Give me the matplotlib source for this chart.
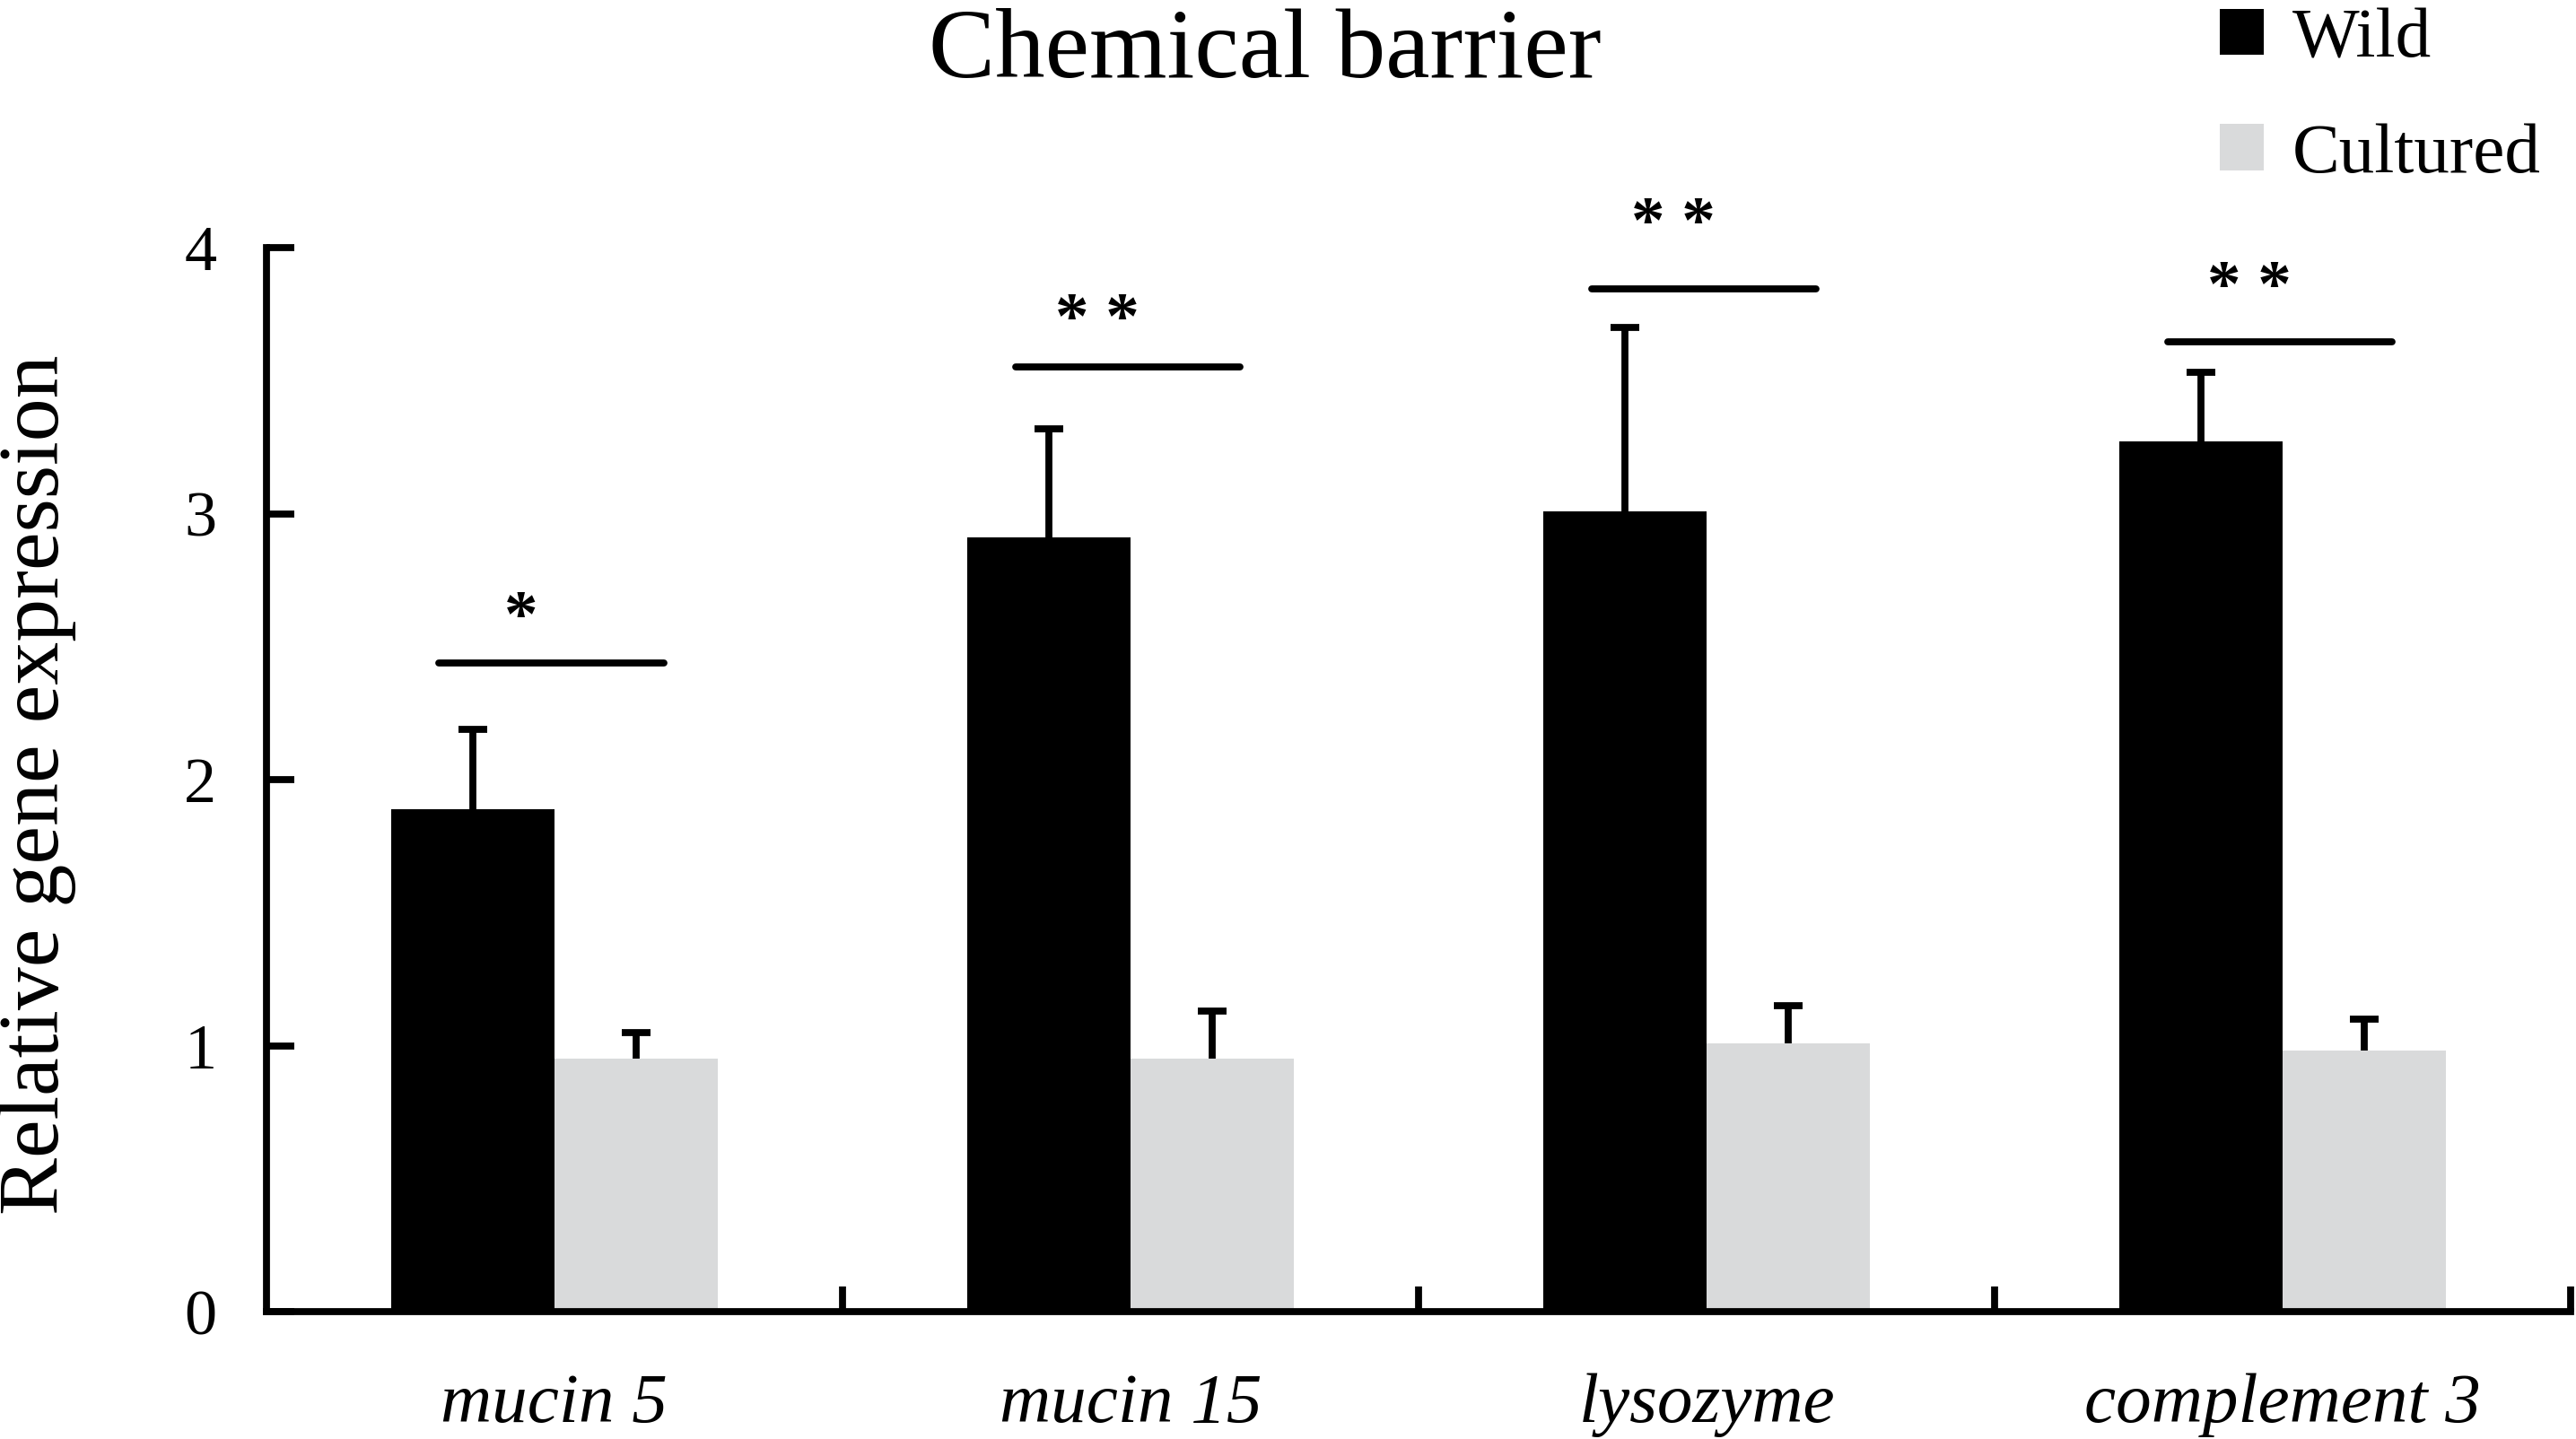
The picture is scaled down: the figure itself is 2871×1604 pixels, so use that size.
import matplotlib
matplotlib.use("Agg")
import matplotlib.pyplot as plt
import numpy as np
from matplotlib.patches import Patch

plt.rcParams['font.family'] = ['Liberation Serif', 'DejaVu Serif']

genes = ["mucin 5", "mucin 15", "lysozyme", "complement 3"]
wild = [1.89, 2.91, 3.01, 3.27]
wild_err = [0.30, 0.41, 0.69, 0.26]
cultured = [0.95, 0.95, 1.01, 0.98]
cultured_err = [0.10, 0.18, 0.14, 0.12]
sig_labels = ["*", "* *", "* *", "* *"]
sig_line_y = [2.44, 3.55, 3.845, 3.645]
sig_text_y = [2.60, 3.72, 4.08, 3.84]

WILD_COLOR = "#000000"
CULT_COLOR = "#d9dadb"

fig = plt.figure(figsize=(28.71, 16.04), dpi=100)
ax = fig.add_axes([0.1034, 0.0885, 0.998 - 0.1034, 0.8279 - 0.0885])

x = np.arange(len(genes))
w = 0.283
lw = 5.6

ax.bar(x - w / 2, wild, w, color=WILD_COLOR, zorder=2)
ax.bar(x + w / 2, cultured, w, color=CULT_COLOR, zorder=2)
for xs, vals, errs in [(x - w / 2, wild, wild_err), (x + w / 2, cultured, cultured_err)]:
    cont = ax.errorbar(xs, vals, yerr=[np.zeros(len(vals)), errs], fmt='none',
                       ecolor='black', elinewidth=lw, capsize=11.5, capthick=lw, zorder=1)
    caps = cont.lines[1]
    if len(caps) > 1:
        caps[0].set_visible(False)

for i in range(len(genes)):
    ax.plot([x[i] - 0.2, x[i] + 0.19], [sig_line_y[i], sig_line_y[i]], color='black',
            lw=lw, solid_capstyle='round', clip_on=False)
    ax.text(x[i] - 0.058, sig_text_y[i], sig_labels[i], ha='center', va='center',
            fontsize=54, fontweight='bold', clip_on=False)

ax.set_xlim(-0.5, len(genes) - 0.5)
ax.set_ylim(0, 4)
ax.set_yticks([0, 1, 2, 3, 4])
ax.set_yticklabels(["0", "1", "2", "3", "4"])
ax.set_xticks(np.arange(len(genes)) + 0.5)
ax.set_xticklabels([])
ax.set_xticks(x, minor=True)
ax.set_xticklabels(genes, minor=True, fontstyle='italic', fontsize=57)
ax.tick_params(axis='x', which='minor', length=0, pad=49)
ax.tick_params(axis='x', which='major', direction='in', length=20, width=lw)
ax.tick_params(axis='y', direction='in', length=22, width=lw, labelsize=52, pad=40)

for s in ['top', 'right']:
    ax.spines[s].set_visible(False)
for s in ['left', 'bottom']:
    ax.spines[s].set_linewidth(lw)
ax.spines['left'].set_bounds(0, 4)

fig.text(0.491, 1 - 86 / 1604, "Chemical barrier", ha='center', va='baseline', fontsize=80)
fig.text(0.0147, 0.4545, "Relative gene expression", rotation=90, ha='center', va='center',
         fontsize=69)

handles = [Patch(facecolor=WILD_COLOR, edgecolor='none', label='Wild'),
           Patch(facecolor=CULT_COLOR, edgecolor='none', label='Cultured')]
fig.legend(handles=handles, loc='upper right', bbox_to_anchor=(1.003, 1.024), frameon=False,
           fontsize=57, handlelength=0.62, handleheight=0.62, handletextpad=0.4,
           labelspacing=0.72, borderpad=0.1)

fig.savefig("out.png", dpi=100)
